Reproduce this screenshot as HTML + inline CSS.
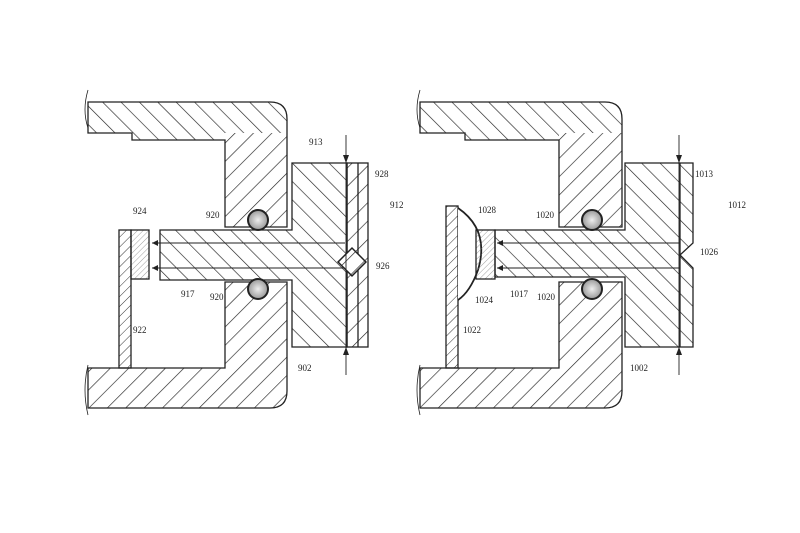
<!DOCTYPE html>
<html><head><meta charset="utf-8"><style>
html,body{margin:0;padding:0;background:#fff;width:800px;height:533px;overflow:hidden}
text{font-family:"Liberation Serif",serif;font-size:9px;fill:#222}
</style></head><body>
<svg width="800" height="533" viewBox="0 0 800 533" xmlns="http://www.w3.org/2000/svg">
<defs>
<pattern id="bs" width="13" height="13" patternUnits="userSpaceOnUse" patternTransform="rotate(-45)"><line x1="0" y1="0" x2="0" y2="13" stroke="#222" stroke-width="1.3"/></pattern>
<pattern id="fs" width="13" height="13" patternUnits="userSpaceOnUse" patternTransform="rotate(45)"><line x1="0" y1="0" x2="0" y2="13" stroke="#222" stroke-width="1.3"/></pattern>
<pattern id="hC" width="7" height="7" patternUnits="userSpaceOnUse" patternTransform="rotate(45)"><line x1="0" y1="0" x2="0" y2="7" stroke="#333" stroke-width="1"/></pattern>
<pattern id="hD" width="4" height="4" patternUnits="userSpaceOnUse" patternTransform="rotate(45)"><line x1="0" y1="0" x2="0" y2="4" stroke="#777" stroke-width="0.7"/></pattern>
<radialGradient id="ring"><stop offset="0" stop-color="#eee"/><stop offset="1" stop-color="#999"/></radialGradient>
</defs>
<g stroke="#222" stroke-width="1.3" fill="none">
<!-- LEFT FIGURE -->
<path d="M88,102 L270,102 Q287,102 287,119 L287,133 L88,133 Z" fill="url(#bs)" stroke="none"/>
<path d="M225,133 L287,133 L287,227 L225,227 Z" fill="url(#fs)" stroke="none"/>
<path d="M132,133 L225,133 L225,140 L132,140 Z" fill="url(#bs)" stroke="none"/>
<path d="M88,102 L270,102 Q287,102 287,119 L287,227 L225,227 L225,140 L132,140 L132,133 L88,133 Z"/>
<path d="M225,282 L287,282 L287,391 Q287,408 270,408 L88,408 L88,368 L225,368 Z" fill="url(#fs)"/>
<path d="M292,163 L347,163 L347,347 L292,347 L292,280 L160,280 L160,230 L292,230 Z" fill="url(#bs)"/>
<rect x="347" y="163" width="21" height="184" fill="url(#fs)"/>
<line x1="358" y1="163" x2="358" y2="347"/>
<path d="M338,262 L352,248 L366,262 L352,276 Z" fill="#fff"/>
<path d="M338,262 L352,248 L366,262 L352,276 Z" fill="url(#fs)"/>
<rect x="119" y="230" width="12" height="138" fill="url(#hC)"/>
<rect x="131" y="230" width="18" height="49" fill="url(#hD)"/>
<circle cx="258" cy="220" r="10" fill="url(#ring)" stroke-width="2"/>
<circle cx="258" cy="289" r="10" fill="url(#ring)" stroke-width="2"/>
<g stroke-width="0.9">
<line x1="152" y1="243" x2="345" y2="243"/><line x1="152" y1="268" x2="345" y2="268"/>
<line x1="346" y1="135" x2="346" y2="375"/>
</g>
<path d="M88,90 Q82,110 88,128 M88,365 Q82,390 88,415" stroke-width="0.8"/>
<!-- RIGHT FIGURE -->
<path d="M420,102 L605,102 Q622,102 622,119 L622,133 L420,133 Z" fill="url(#bs)" stroke="none"/>
<path d="M559,133 L622,133 L622,227 L559,227 Z" fill="url(#fs)" stroke="none"/>
<path d="M465,133 L559,133 L559,140 L465,140 Z" fill="url(#bs)" stroke="none"/>
<path d="M420,102 L605,102 Q622,102 622,119 L622,227 L559,227 L559,140 L465,140 L465,133 L420,133 Z"/>
<path d="M559,282 L622,282 L622,391 Q622,408 605,408 L420,408 L420,368 L559,368 Z" fill="url(#fs)"/>
<path d="M625,163 L693,163 L693,243 L680,255 L693,268 L693,347 L625,347 L625,277 L495,277 L495,230 L625,230 Z" fill="url(#bs)"/>
<line x1="680" y1="163" x2="680" y2="347"/>
<rect x="446" y="206" width="12" height="162" fill="url(#hC)"/>
<path d="M458,208 Q490,230 478,270 Q470,292 458,300" fill="#fff" stroke-width="1.8"/>
<rect x="476" y="230" width="19" height="49" fill="url(#hD)"/>
<circle cx="592" cy="220" r="10" fill="url(#ring)" stroke-width="2"/>
<circle cx="592" cy="289" r="10" fill="url(#ring)" stroke-width="2"/>
<g stroke-width="0.9">
<line x1="497" y1="243" x2="680" y2="243"/><line x1="497" y1="268" x2="680" y2="268"/>
<line x1="679" y1="135" x2="679" y2="375"/>
</g>
<path d="M420,90 Q414,110 420,128 M420,365 Q414,390 420,415" stroke-width="0.8"/>
</g>
<g fill="#222">
<path d="M343,155 L346,163 L349,155 Z"/><path d="M343,355 L346,347 L349,355 Z"/>
<path d="M676,155 L679,163 L682,155 Z"/><path d="M676,355 L679,347 L682,355 Z"/>
<path d="M158,240 L152,243 L158,246 Z"/><path d="M158,265 L152,268 L158,271 Z"/>
<path d="M503,240 L497,243 L503,246 Z"/><path d="M503,265 L497,268 L503,271 Z"/>
</g>
<text x="309" y="145">913</text><text x="375" y="177">928</text><text x="390" y="208">912</text>
<text x="133" y="214">924</text><text x="206" y="218">920</text><text x="210" y="300">920</text>
<text x="376" y="269">926</text><text x="181" y="297">917</text><text x="133" y="333">922</text><text x="298" y="371">902</text>
<text x="695" y="177">1013</text><text x="728" y="208">1012</text><text x="478" y="213">1028</text>
<text x="536" y="218">1020</text><text x="537" y="300">1020</text><text x="700" y="255">1026</text>
<text x="475" y="303">1024</text><text x="510" y="297">1017</text><text x="463" y="333">1022</text><text x="630" y="371">1002</text>
</svg>
</body></html>
